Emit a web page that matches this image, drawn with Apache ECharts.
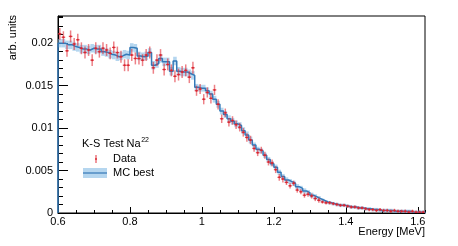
<!DOCTYPE html>
<html>
<head>
<meta charset="utf-8">
<script src="https://cdn.jsdelivr.net/npm/echarts@6/dist/echarts.min.js"></script>
<style>html,body{margin:0;padding:0;background:#fff}#c{width:458px;height:246px}</style>
</head>
<body>
<div id="c"></div>
<script>
// Histogram binning (MeV)
const binStart = 0.6;
const binWidth = 0.01;
// Data points (arb. units) per bin
const dataVals = [
0.0211,0.0207,0.0191,0.0208,0.0199,0.0204,0.0194,0.0189,0.0192,0.0180,
0.0194,0.0190,0.0194,0.0192,0.0188,0.0195,0.0189,0.0184,0.0174,0.0174,
0.0186,0.0182,0.0182,0.0180,0.0186,0.0189,0.0171,0.0180,0.0186,0.0169,
0.0175,0.0168,0.0161,0.0163,0.0166,0.0168,0.0160,0.0171,0.0144,0.0146,
0.0134,0.0142,0.0135,0.0145,0.0128,0.0111,0.0118,0.0107,0.0109,0.0104,
0.0101,0.0095,0.0089,0.0086,0.0076,0.0071,0.0074,0.0068,0.0060,0.0059,
0.0051,0.0042,0.0040,0.0036,0.0032,0.0035,0.0027,0.0025,0.0021,0.0022,
0.0020,0.0017,0.0015,0.0013,0.0012,0.0012,0.0011,0.0010,0.0009,0.0009,
0.0008,0.0007,0.0007,0.0006,0.0006,0.0005,0.0004,0.0004,0.0003,0.0004,
0.0003,0.0003,0.0002,0.0003,0.0002,0.0002,0.0002,0.0001,0.0002,0.0001,
0.0001,0.0001];
const dataErr = [
0.0007,0.0007,0.0007,0.0007,0.0007,0.0007,0.0007,0.0007,0.0007,0.0007,
0.0007,0.0007,0.0007,0.0007,0.0007,0.0007,0.0007,0.0007,0.0007,0.0007,
0.0007,0.0007,0.0007,0.0007,0.0007,0.0007,0.0007,0.0007,0.0007,0.0007,
0.0007,0.0007,0.0007,0.0007,0.0007,0.0007,0.0007,0.0007,0.0006,0.0006,
0.0006,0.0006,0.0006,0.0006,0.0006,0.0005,0.0005,0.0005,0.0005,0.0005,
0.0005,0.0005,0.0005,0.0005,0.0004,0.0004,0.0004,0.0004,0.0004,0.0004,
0.0004,0.0004,0.0004,0.0003,0.0003,0.0003,0.0003,0.0003,0.0003,0.0003,
0.0003,0.0003,0.0003,0.0002,0.0002,0.0002,0.0002,0.0002,0.0002,0.0002,
0.0002,0.0002,0.0002,0.0002,0.0002,0.0002,0.0002,0.0002,0.0002,0.0002,
0.0002,0.0002,0.0002,0.0002,0.0002,0.0002,0.0002,0.0002,0.0002,0.0002,
0.0002,0.0002];
// MC best histogram per bin
const mcVals = [
0.0200,0.0200,0.0198,0.0198,0.0196,0.0195,0.0193,0.0193,0.0192,0.0194,
0.0193,0.0193,0.0190,0.0189,0.0187,0.0186,0.0184,0.0185,0.0187,0.0186,
0.0195,0.0194,0.0185,0.0184,0.0185,0.0189,0.0174,0.0176,0.0182,0.0178,
0.0178,0.0167,0.0179,0.0167,0.0166,0.0166,0.0164,0.0162,0.0148,0.0147,
0.0147,0.0144,0.0140,0.0134,0.0128,0.0120,0.0116,0.0111,0.0108,0.0105,
0.0103,0.0097,0.0092,0.0086,0.0080,0.0075,0.0073,0.0068,0.0063,0.0058,
0.0054,0.0048,0.0043,0.0039,0.0037,0.0035,0.0031,0.0029,0.0026,0.0024,
0.0021,0.0019,0.0017,0.0015,0.0013,0.0012,0.0011,0.0010,0.0009,0.0009,
0.0008,0.0007,0.0007,0.0006,0.0006,0.0005,0.0005,0.0004,0.0004,0.0003,
0.0003,0.0003,0.0003,0.0002,0.0002,0.0002,0.0002,0.0002,0.0001,0.0001,
0.0001,0.0001];
const mcErr = [
0.0005,0.0005,0.0005,0.0005,0.0005,0.0005,0.0005,0.0005,0.0005,0.0005,
0.0005,0.0005,0.0005,0.0005,0.0005,0.0005,0.0005,0.0005,0.0005,0.0005,
0.0005,0.0005,0.0005,0.0005,0.0005,0.0005,0.0005,0.0005,0.0005,0.0005,
0.0005,0.0005,0.0005,0.0005,0.0005,0.0005,0.0005,0.0005,0.0004,0.0004,
0.0004,0.0004,0.0004,0.0004,0.0004,0.0004,0.0004,0.0004,0.0004,0.0004,
0.0004,0.0004,0.0004,0.0004,0.0003,0.0003,0.0003,0.0003,0.0003,0.0003,
0.0003,0.0003,0.0003,0.0003,0.0003,0.0003,0.0003,0.0003,0.0003,0.0003,
0.0003,0.0003,0.0003,0.0002,0.0002,0.0002,0.0002,0.0002,0.0002,0.0002,
0.0002,0.0002,0.0002,0.0002,0.0002,0.0002,0.0002,0.0002,0.0002,0.0002,
0.0002,0.0002,0.0002,0.0002,0.0002,0.0002,0.0002,0.0002,0.0002,0.0002,
0.0002,0.0002];
// Axis settings
const xMin = 0.6, xMax = 1.62, xMajor = 0.2, xMinor = 0.05;
const yMin = 0, yMax = 0.0232, yMajor = 0.005, yMinor = 0.001;
const xTitle = 'Energy [MeV]';
const yTitle = 'arb. units';
const legendTitle = 'K-S Test Na';
const legendSup = '22';
const legendData = 'Data';
const legendMC = 'MC best';

const FONT = '"Liberation Sans", Arial, Helvetica, sans-serif';
const r = v => Math.round(v * 1e6) / 1e6;

const bandData = mcVals.map((v, i) => [r(binStart + i * binWidth), r(binStart + (i + 1) * binWidth), v - mcErr[i], v + mcErr[i]]);
const stepData = [[binStart, 0]];
mcVals.forEach((v, i) => {
  stepData.push([r(binStart + i * binWidth), v]);
  stepData.push([r(binStart + (i + 1) * binWidth), v]);
});
stepData.push([r(binStart + mcVals.length * binWidth), 0]);
const pointData = dataVals.map((v, i) => [r(binStart + (i + 0.5) * binWidth), v, dataErr[i]]);

// measure legend title width to place the superscript right after it
const mctx = document.createElement('canvas').getContext('2d');
mctx.font = '11px ' + FONT;
const titleW = mctx.measureText(legendTitle).width;

const chart = echarts.init(document.getElementById('c'), null, {renderer: 'canvas'});
const tickCommon = {lineStyle: {color: '#000', width: 1}, inside: true};
const option = {
  animation: false,
  grid: {left: 58, right: 33, top: 16, bottom: 33, show: true, borderColor: '#000', borderWidth: 1, backgroundColor: 'transparent'},
  xAxis: [
    {type: 'value', min: xMin, max: xMax, interval: xMajor, position: 'bottom',
     axisLine: {show: true, onZero: false, lineStyle: {color: '#000', width: 1}},
     axisTick: Object.assign({length: 6}, tickCommon),
     axisLabel: {show: true, showMaxLabel: false, color: '#000', fontSize: 11, fontFamily: FONT, margin: 3,
       formatter: v => (Math.abs(v - Math.round(v)) < 1e-9 ? String(Math.round(v)) : String(Math.round(v * 10) / 10))},
     splitLine: {show: false}},
    {type: 'value', min: xMin, max: xMax, interval: xMinor, position: 'bottom',
     axisLine: {show: false, onZero: false}, axisTick: Object.assign({length: 3}, tickCommon),
     axisLabel: {show: false}, splitLine: {show: false}}
  ],
  yAxis: [
    {type: 'value', min: yMin, max: yMax, interval: yMajor, position: 'left',
     axisLine: {show: true, onZero: false, lineStyle: {color: '#000', width: 1}},
     axisTick: Object.assign({length: 10}, tickCommon),
     axisLabel: {show: true, showMaxLabel: false, color: '#000', fontSize: 11, fontFamily: FONT, margin: 5,
       formatter: v => String(Math.round(v * 1000) / 1000)},
     splitLine: {show: false}},
    {type: 'value', min: yMin, max: yMax, interval: yMinor, position: 'left',
     axisLine: {show: false, onZero: false}, axisTick: Object.assign({length: 5}, tickCommon),
     axisLabel: {show: false}, splitLine: {show: false}}
  ],
  series: [
    {type: 'custom', name: 'MC band', xAxisIndex: 0, yAxisIndex: 0, clip: true,
     data: bandData, encode: {x: [0, 1], y: [2, 3]},
     renderItem: (params, api) => {
       const p0 = api.coord([api.value(0), api.value(3)]);
       const p1 = api.coord([api.value(1), api.value(2)]);
       return {type: 'rect', shape: {x: p0[0], y: p0[1], width: p1[0] - p0[0], height: p1[1] - p0[1]},
         style: {fill: 'rgba(120,180,225,0.55)'}};
     }, z: 2},
    {type: 'line', name: 'MC best', xAxisIndex: 0, yAxisIndex: 0, data: stepData, showSymbol: false,
     symbol: 'none', lineStyle: {color: '#3479b8', width: 1.5}, z: 3, clip: true},
    {type: 'custom', name: 'Data', xAxisIndex: 0, yAxisIndex: 0, clip: true,
     data: pointData, encode: {x: 0, y: 1},
     renderItem: (params, api) => {
       const x = api.value(0), v = api.value(1), e = api.value(2);
       const c = api.coord([x, v]);
       const top = api.coord([x, v + e]);
       const bot = api.coord([x, Math.max(0, v - e)]);
       const l = api.coord([x - binWidth / 2, v]);
       const rr = api.coord([x + binWidth / 2, v]);
       return {type: 'group', children: [
         {type: 'line', shape: {x1: c[0], y1: top[1], x2: c[0], y2: bot[1]}, style: {stroke: 'rgba(225,45,55,0.6)', lineWidth: 1.5}},
         {type: 'line', shape: {x1: l[0], y1: c[1], x2: rr[0], y2: c[1]}, style: {stroke: 'rgba(225,45,55,0.85)', lineWidth: 1.2}},
         {type: 'circle', shape: {cx: c[0], cy: c[1], r: 1}, style: {fill: 'rgba(215,35,45,0.9)'}}
       ]};
     }, z: 4}
  ],
  graphic: [
    {type: 'text', x: 425, y: 232, style: {text: xTitle, font: '11px ' + FONT, fill: '#000', align: 'right', verticalAlign: 'middle'}},
    {type: 'text', x: 12.5, y: 15, rotation: Math.PI / 2, style: {text: yTitle, font: '11px ' + FONT, fill: '#000', align: 'right', verticalAlign: 'middle'}},
    {type: 'text', x: 82, y: 144, style: {text: legendTitle, font: '11px ' + FONT, fill: '#000', align: 'left', verticalAlign: 'middle'}},
    {type: 'text', x: 82 + titleW + 0.5, y: 140, style: {text: legendSup, font: '7px ' + FONT, fill: '#000', align: 'left', verticalAlign: 'middle'}},
    {type: 'line', shape: {x1: 96, y1: 155, x2: 96, y2: 163}, style: {stroke: 'rgba(225,45,55,0.65)', lineWidth: 1.5}},
    {type: 'circle', shape: {cx: 96, cy: 159, r: 1}, style: {fill: 'rgba(215,35,45,0.9)'}},
    {type: 'text', x: 113, y: 159, style: {text: legendData, font: '11px ' + FONT, fill: '#000', align: 'left', verticalAlign: 'middle'}},
    {type: 'rect', shape: {x: 83, y: 168, width: 24, height: 10}, style: {fill: 'rgba(120,180,225,0.55)'}},
    {type: 'line', shape: {x1: 83, y1: 173, x2: 107, y2: 173}, style: {stroke: '#3479b8', lineWidth: 1.2}},
    {type: 'text', x: 113, y: 173, style: {text: legendMC, font: '11px ' + FONT, fill: '#000', align: 'left', verticalAlign: 'middle'}}
  ]
};
chart.setOption(option);
</script>
</body>
</html>
